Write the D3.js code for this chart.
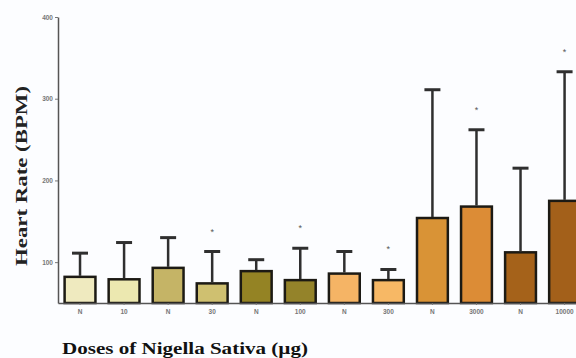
<!DOCTYPE html>
<html>
<head>
<meta charset="utf-8">
<script src="https://cdn.jsdelivr.net/npm/d3@7"></script>
<style>
  body { margin: 0; background: #fcfdff; }
  svg { display: block; }
</style>
</head>
<body>
<div id="chart"></div>
<script>
// Data
const doses = ["N", "10", "N", "30", "N", "100", "N", "300", "N", "3000", "N", "10000"];
const heartRate = [82, 79, 93, 74, 89, 78, 86, 78, 154, 168, 112, 175];
const errorTop = [111, 124, 130, 113, 103, 117, 113, 91, 311, 262, 215, 333];
const significant = [false, false, false, true, false, true, false, true, false, true, false, true];
const barColors = ["#efeabf", "#ece8b0", "#c5b466", "#cfc070", "#948324", "#94832a",
  "#f5b465", "#f7b865", "#d99336", "#dc8c36", "#a5621a", "#a3601a"];
const yTicks = [100, 200, 300, 400];

const dimensions = {
  width: 576,
  height: 358,
  left: 58,
  top: 17,
  bottom: 303,
};

const svg = d3.select("#chart")
  .append("svg")
  .attr("width", dimensions.width)
  .attr("height", dimensions.height);

// Scales
const xScale = d3.scaleBand()
  .domain(d3.range(doses.length))
  .range([dimensions.left, dimensions.left + 12 * 44.05])
  .paddingInner(0.3)
  .paddingOuter(0.15);

const yScale = d3.scaleLinear()
  .domain([50, 400])
  .range([dimensions.bottom, dimensions.top]);

// Bars
const idx = d3.range(doses.length);

svg.append("g")
  .selectAll("rect")
  .data(idx)
  .join("rect")
  .attr("x", (i) => xScale(i))
  .attr("y", (i) => yScale(heartRate[i]))
  .attr("width", xScale.bandwidth())
  .attr("height", (i) => dimensions.bottom - yScale(heartRate[i]))
  .attr("fill", (i) => barColors[i])
  .attr("stroke", "#1c1a14")
  .attr("stroke-width", 2.5);

// Error bars
const err = svg.append("g").attr("stroke", "#2f2f2f").attr("stroke-width", 2.5);
err.selectAll("line.stem")
  .data(idx)
  .join("line")
  .attr("class", "stem")
  .attr("x1", (i) => xScale(i) + xScale.bandwidth() / 2)
  .attr("x2", (i) => xScale(i) + xScale.bandwidth() / 2)
  .attr("y1", (i) => yScale(heartRate[i]) - 1)
  .attr("y2", (i) => yScale(errorTop[i]));
err.selectAll("line.cap")
  .data(idx)
  .join("line")
  .attr("class", "cap")
  .attr("stroke-width", 3)
  .attr("x1", (i) => xScale(i) + xScale.bandwidth() / 2 - 8)
  .attr("x2", (i) => xScale(i) + xScale.bandwidth() / 2 + 8)
  .attr("y1", (i) => yScale(errorTop[i]))
  .attr("y2", (i) => yScale(errorTop[i]));

// Significance stars
svg.append("g")
  .selectAll("text")
  .data(idx.filter((i) => significant[i]))
  .join("text")
  .attr("x", (i) => xScale(i) + xScale.bandwidth() / 2)
  .attr("y", (i) => yScale(errorTop[i]) - 17)
  .attr("text-anchor", "middle")
  .attr("font-family", "Liberation Sans, Arial, sans-serif")
  .attr("font-size", 9)
  .attr("fill", "#555")
  .text("*");

// Axes
const yAxis = svg.append("g")
  .attr("transform", `translate(${dimensions.left},0)`)
  .call(d3.axisLeft(yScale).tickValues(yTicks).tickSize(3).tickSizeOuter(0));
yAxis.select(".domain").attr("stroke", "#555").attr("stroke-width", 1.5);
yAxis.selectAll(".tick line").attr("stroke", "#777");
yAxis.selectAll("text")
  .attr("font-family", "Liberation Sans, Arial, sans-serif")
  .attr("font-size", 6.5)
  .attr("font-weight", "bold")
  .attr("fill", "#777")
  .attr("x", -5);

const xAxis = svg.append("g")
  .attr("transform", `translate(0,${dimensions.bottom})`)
  .call(d3.axisBottom(xScale).tickFormat((i) => doses[i]).tickSize(2).tickSizeOuter(0));
xAxis.select(".domain").attr("stroke", "#555").attr("stroke-width", 1.5);
xAxis.selectAll(".tick line").attr("stroke", "#777");
xAxis.selectAll("text")
  .attr("font-family", "Liberation Sans, Arial, sans-serif")
  .attr("font-size", 6.5)
  .attr("font-weight", "bold")
  .attr("fill", "#777")
  .attr("y", 6);

// Labels
svg.append("text")
  .attr("transform", "translate(27,176) rotate(-90)")
  .attr("text-anchor", "middle")
  .attr("font-family", "Liberation Serif, Times New Roman, serif")
  .attr("font-weight", "bold")
  .attr("font-size", 17)
  .attr("textLength", 180)
  .attr("lengthAdjust", "spacingAndGlyphs")
  .attr("fill", "#222")
  .text("Heart Rate (BPM)");

svg.append("text")
  .attr("x", 62)
  .attr("y", 354)
  .attr("font-family", "Liberation Serif, Times New Roman, serif")
  .attr("font-weight", "bold")
  .attr("font-size", 17.5)
  .attr("textLength", 246)
  .attr("lengthAdjust", "spacingAndGlyphs")
  .attr("fill", "#111")
  .text("Doses of Nigella Sativa (µg)");
</script>
</body>
</html>
